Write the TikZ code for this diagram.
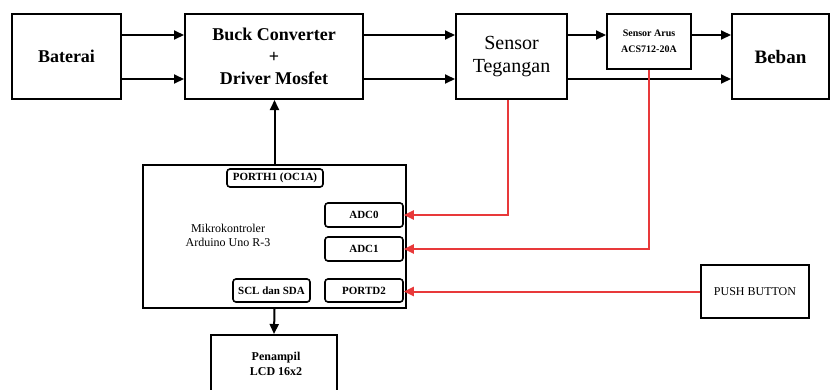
\documentclass[tikz,border=0pt]{standalone}
\usepackage{fontspec}
\setmainfont{Liberation Serif}
\usetikzlibrary{arrows.meta}
\definecolor{sigred}{HTML}{E8393A}
\tikzset{
  block/.style={draw=black, line width=2pt, inner sep=0pt, align=center},
  port/.style={draw=black, line width=1.6pt, rounded corners=3pt, inner sep=0pt, align=center, font=\fontsize{11}{12}\selectfont\bfseries},
  arr/.style={line width=2pt, draw=black, -{Triangle[length=10pt,width=9pt]}},
  sigarr/.style={line width=2pt, draw=sigred, -{Triangle[length=10pt,width=9pt]}},
}

\begin{document}
\begin{tikzpicture}[x=1pt,y=-1pt]
\useasboundingbox (0,0) rectangle (830,389);
\node[block, minimum width=109, minimum height=85, font=\fontsize{18}{20}\selectfont\bfseries] (baterai) at (66.5,56.5) {Baterai};
\node[block, minimum width=178, minimum height=85, font=\fontsize{18}{22}\selectfont\bfseries] (buck) at (274,56.5) {Buck Converter\\+\\Driver Mosfet};
\node[block, minimum width=111, minimum height=85, font=\fontsize{20}{23}\selectfont] (steg) at (511.5,56.5) {Sensor\\Tegangan};
\node[block, minimum width=84, minimum height=55, font=\fontsize{10}{16}\selectfont\bfseries] (sarus) at (649,41.5) {Sensor Arus\\ACS712-20A};
\node[block, minimum width=97, minimum height=85, font=\fontsize{19}{21}\selectfont\bfseries] (beban) at (780.5,56.5) {Beban};
\node[block, minimum width=263, minimum height=143] (mcu) at (274.5,236.5) {};
\node[font=\fontsize{12}{14}\selectfont, align=center] (mcutext) at (228,235) {Mikrokontroler\\Arduino Uno R-3};
\node[port, minimum width=96, minimum height=18] (porth) at (275,178) {PORTH1 (OC1A)};
\node[port, minimum width=78, minimum height=24] (adc0) at (364,215) {ADC0};
\node[port, minimum width=78, minimum height=24] (adc1) at (364,249) {ADC1};
\node[port, minimum width=78, minimum height=23] (portd) at (364,290.5) {PORTD2};
\node[port, minimum width=77, minimum height=23] (scl) at (271.5,290.5) {SCL dan SDA};
\node[block, minimum width=126, minimum height=65] (lcd) at (274,367.5) {};
\node[font=\fontsize{12}{15}\selectfont\bfseries, align=center] (lcdtext) at (276,364) {Penampil\\LCD 16x2};
\node[block, minimum width=108, minimum height=53, font=\fontsize{12}{14}\selectfont] (push) at (755,291.5) {PUSH BUTTON};
\draw[arr] ([yshift=21.5pt]baterai.east) -- ([yshift=21.5pt]buck.west);
\draw[arr] ([yshift=-22.5pt]baterai.east) -- ([yshift=-22.5pt]buck.west);
\draw[arr] ([yshift=21.5pt]buck.east) -- ([yshift=21.5pt]steg.west);
\draw[arr] ([yshift=-22.5pt]buck.east) -- ([yshift=-22.5pt]steg.west);
\draw[arr] ([yshift=21.5pt]steg.east) -- ([yshift=6.5pt]sarus.west);
\draw[arr] ([yshift=6.5pt]sarus.east) -- ([yshift=21.5pt]beban.west);
\draw[arr] ([yshift=-22.5pt]steg.east) -- ([yshift=-22.5pt]beban.west);
\draw[arr] (mcu.north) -- (mcu.north |- buck.south);
\draw[arr] (mcu.south) -- (lcd.north);
\draw[sigarr] ([xshift=-3.5pt]steg.south) |- (adc0.east);
\draw[sigarr] (sarus.south) |- (adc1.east);
\draw[sigarr] (push.west) -- (push.west -| portd.east);
\end{tikzpicture}
\end{document}
